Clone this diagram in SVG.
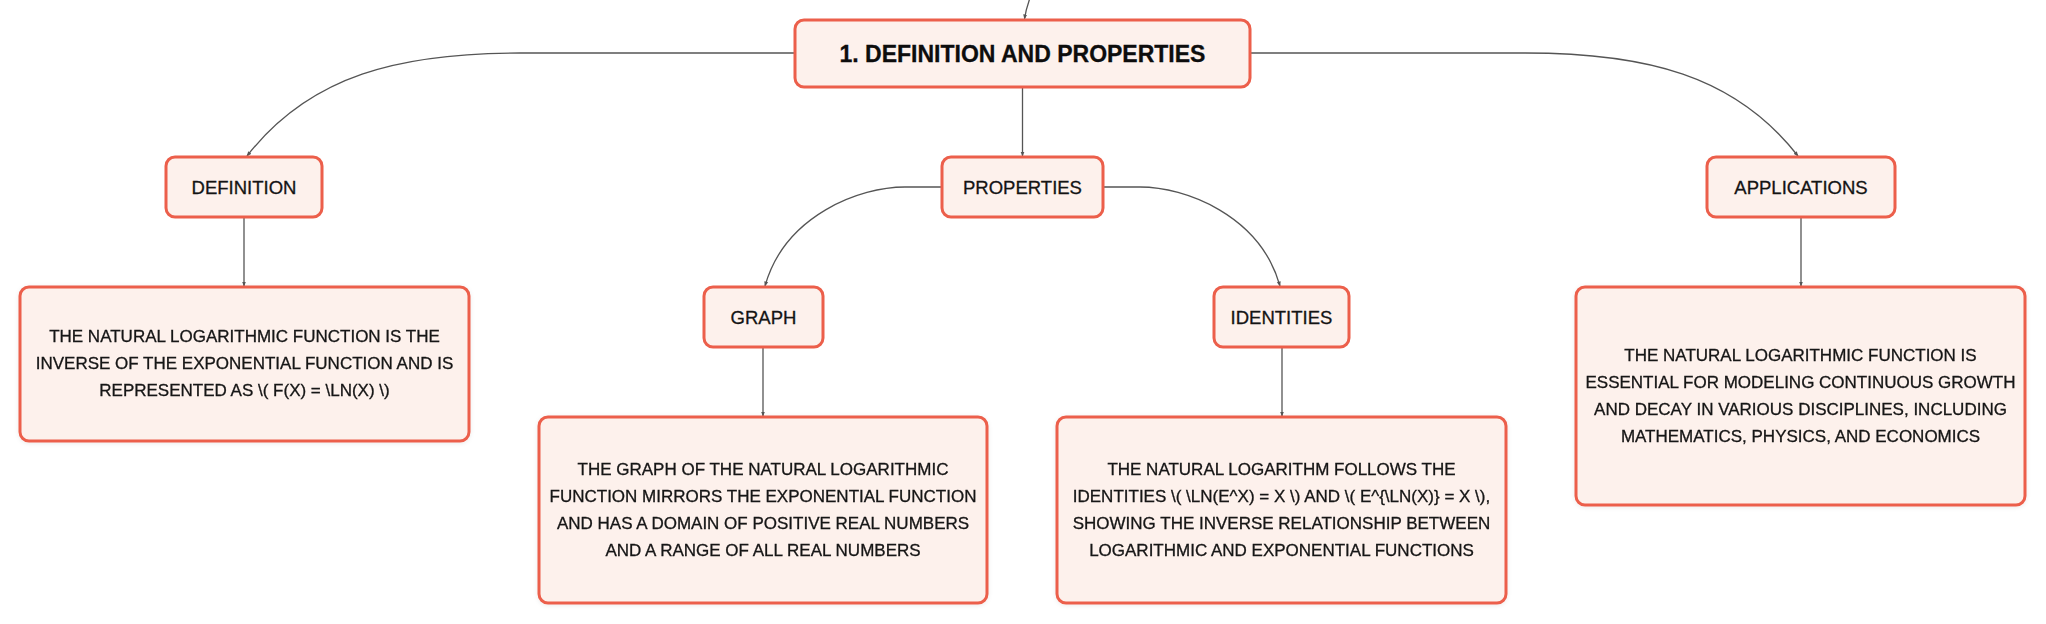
<svg xmlns="http://www.w3.org/2000/svg" width="2046" height="624" viewBox="0 0 2046 624">
  <style>
    .box { fill: #FDF1EC; stroke: #EC5F4B; stroke-width: 3; }
    .body { filter: url(#shadow); }
    .lbl { font-family: "Liberation Sans", Arial, sans-serif; font-size: 18.5px; fill: #141414; stroke: #141414; stroke-width: 0.3; text-anchor: middle; }
    .title { font-family: "Liberation Sans", Arial, sans-serif; font-size: 23px; font-weight: bold; fill: #0d0d0d; stroke: #0d0d0d; stroke-width: 0.3; text-anchor: middle; }
    .txt { font-family: "Liberation Sans", Arial, sans-serif; font-size: 17px; fill: #141414; stroke: #141414; stroke-width: 0.3; text-anchor: middle; }
    .conn { fill: none; stroke: #555555; stroke-width: 1.3; marker-end: url(#arr); }
  </style>
  <defs>
    <marker id="arr" viewBox="0 0 10 10" refX="9" refY="5" markerWidth="5" markerHeight="5" markerUnits="userSpaceOnUse" orient="auto">
      <path d="M0,1 L10,5 L0,9 Z" fill="#555555"/>
    </marker>
    <filter id="shadow" x="-5%" y="-5%" width="110%" height="115%">
      <feDropShadow dx="0" dy="1" stdDeviation="2" flood-color="#000" flood-opacity="0.08"/>
    </filter>
  </defs>
  <rect width="2046" height="624" fill="#ffffff"/>

  <g id="connectors">
    <path class="conn" d="M1030,-2 Q1026,9 1024.5,19"/>
    <path class="conn" d="M795,53 L520,53 C400,53 310,75 247,156"/>
    <path class="conn" d="M1250,53 L1525,53 C1645,53 1735,75 1798,156"/>
    <path class="conn" d="M1022.5,87 L1022.5,156"/>
    <path class="conn" d="M942,187 L905,187 C860,187 785,215 765,286"/>
    <path class="conn" d="M1103,187 L1140,187 C1185,187 1260,215 1280,286"/>
    <path class="conn" d="M244,217 L244,286"/>
    <path class="conn" d="M763,347 L763,416"/>
    <path class="conn" d="M1282,347 L1282,416"/>
    <path class="conn" d="M1801,217 L1801,286"/>
  </g>

  <g id="node-root">
    <rect class="box" x="795" y="20" width="455" height="67" rx="9"/>
    <text class="title" x="1022.5" y="61.7">1. DEFINITION AND PROPERTIES</text>
  </g>

  <g id="node-definition">
    <rect class="box" x="166" y="157" width="156" height="60" rx="9"/>
    <text class="lbl" x="244" y="193.6">DEFINITION</text>
  </g>

  <g id="node-properties">
    <rect class="box" x="942" y="157" width="161" height="60" rx="9"/>
    <text class="lbl" x="1022.5" y="193.6">PROPERTIES</text>
  </g>

  <g id="node-applications">
    <rect class="box" x="1707" y="157" width="188" height="60" rx="9"/>
    <text class="lbl" x="1801" y="193.6">APPLICATIONS</text>
  </g>

  <g id="node-graph">
    <rect class="box" x="704" y="287" width="119" height="60" rx="9"/>
    <text class="lbl" x="763.5" y="323.6">GRAPH</text>
  </g>

  <g id="node-identities">
    <rect class="box" x="1214" y="287" width="135" height="60" rx="9"/>
    <text class="lbl" x="1281.5" y="323.6">IDENTITIES</text>
  </g>

  <g id="node-definition-text" class="body">
    <rect class="box" x="20" y="287" width="449" height="154" rx="9"/>
    <text class="txt" x="244.5" y="341.5">THE NATURAL LOGARITHMIC FUNCTION IS THE</text>
    <text class="txt" x="244.5" y="368.5">INVERSE OF THE EXPONENTIAL FUNCTION AND IS</text>
    <text class="txt" x="244.5" y="395.5">REPRESENTED AS \( F(X) = \LN(X) \)</text>
  </g>

  <g id="node-graph-text" class="body">
    <rect class="box" x="539" y="417" width="448" height="186" rx="9"/>
    <text class="txt" x="763" y="475">THE GRAPH OF THE NATURAL LOGARITHMIC</text>
    <text class="txt" x="763" y="502">FUNCTION MIRRORS THE EXPONENTIAL FUNCTION</text>
    <text class="txt" x="763" y="529">AND HAS A DOMAIN OF POSITIVE REAL NUMBERS</text>
    <text class="txt" x="763" y="556">AND A RANGE OF ALL REAL NUMBERS</text>
  </g>

  <g id="node-identities-text" class="body">
    <rect class="box" x="1057" y="417" width="449" height="186" rx="9"/>
    <text class="txt" x="1281.5" y="475">THE NATURAL LOGARITHM FOLLOWS THE</text>
    <text class="txt" x="1281.5" y="502">IDENTITIES \( \LN(E^X) = X \) AND \( E^{\LN(X)} = X \),</text>
    <text class="txt" x="1281.5" y="529">SHOWING THE INVERSE RELATIONSHIP BETWEEN</text>
    <text class="txt" x="1281.5" y="556">LOGARITHMIC AND EXPONENTIAL FUNCTIONS</text>
  </g>

  <g id="node-applications-text" class="body">
    <rect class="box" x="1576" y="287" width="449" height="218" rx="9"/>
    <text class="txt" x="1800.5" y="360.5">THE NATURAL LOGARITHMIC FUNCTION IS</text>
    <text class="txt" x="1800.5" y="387.5">ESSENTIAL FOR MODELING CONTINUOUS GROWTH</text>
    <text class="txt" x="1800.5" y="414.5">AND DECAY IN VARIOUS DISCIPLINES, INCLUDING</text>
    <text class="txt" x="1800.5" y="441.5">MATHEMATICS, PHYSICS, AND ECONOMICS</text>
  </g>
</svg>
